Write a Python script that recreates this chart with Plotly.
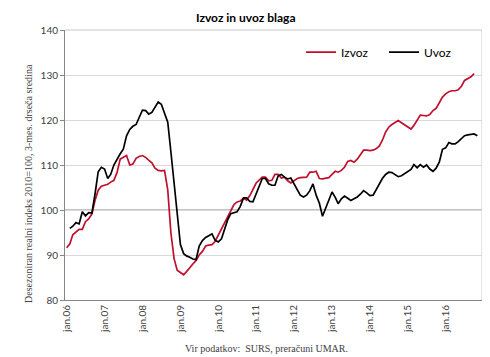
import pandas as pd
import plotly.graph_objects as go

# Monthly categories: jan.2006 .. nov.2016
months = pd.date_range("2006-01-01", periods=131, freq="MS")

izvoz = [
    91.6, 92.5, 94.5, 95.1, 95.7, 95.7, 97.4, 98.0, 99.1, 102.1,
    104.4, 105.3, 105.5, 105.7, 106.2, 106.6, 108.3, 111.3, 111.7, 112.1,
    110.0, 110.2, 111.5, 111.9, 112.1, 111.7, 111.1, 110.5, 109.3, 108.8,
    108.7, 108.8, 104.5, 95.0, 89.2, 86.6, 86.1, 85.6, 86.3, 87.3,
    88.0, 88.8, 90.0, 90.8, 92.0, 92.2, 92.3, 93.0, 94.4, 95.8,
    97.3, 98.6, 99.8, 101.2, 101.8, 102.0, 102.6, 102.2, 103.2, 104.6,
    106.0, 106.7, 107.3, 107.3, 106.5, 106.6, 107.9, 107.9, 107.1, 107.3,
    106.5, 106.0, 106.5, 107.0, 107.2, 107.2, 107.3, 108.4, 108.4, 108.6,
    107.0, 106.9, 107.0, 107.2, 107.9, 108.6, 108.4, 108.8, 109.5, 110.8,
    111.0, 110.6, 111.3, 112.4, 113.3, 113.3, 113.2, 113.3, 113.6, 114.2,
    115.5, 117.3, 118.4, 119.0, 119.4, 119.9, 119.4, 119.0, 118.5, 118.0,
    118.8, 120.0, 121.1, 121.0, 120.9, 121.2, 122.1, 122.6, 124.0, 125.1,
    125.8, 126.3, 126.5, 126.5, 126.7, 127.5, 128.8, 129.2, 129.6, 130.3,
    None,
]

uvoz = [
    None, 95.9, 96.4, 97.2, 96.9, 99.6, 98.7, 99.4, 99.3, 103.5,
    108.5, 109.5, 109.1, 107.0, 107.9, 110.0, 111.3, 112.5, 113.5, 116.5,
    117.9, 118.6, 119.0, 120.5, 122.2, 122.1, 121.3, 121.7, 122.9, 124.0,
    123.5, 121.5, 119.5, 113.0, 106.0, 98.0, 92.3, 90.3, 89.8, 89.5,
    89.1, 89.0, 92.0, 93.2, 93.9, 94.3, 94.7, 93.3, 92.9, 93.6,
    95.8, 97.8, 99.2, 99.4, 99.6, 100.8, 102.7, 102.7, 101.9, 101.8,
    103.5, 105.5, 107.0, 107.0, 105.8, 105.5, 105.5, 107.6, 107.9, 107.3,
    106.9, 107.1, 105.8, 104.5, 103.3, 102.9, 103.3, 104.3, 105.8, 103.3,
    101.5, 98.6, 100.5, 102.4, 104.0, 102.8, 101.4, 102.5, 103.1, 102.6,
    102.1, 102.5, 102.9, 103.5, 104.3, 103.8, 103.2, 103.3, 104.5, 106.0,
    107.0, 107.9, 108.4, 108.3, 107.9, 107.4, 107.6, 108.1, 108.5, 109.0,
    110.1, 109.4, 110.1, 109.5, 110.0, 109.1, 108.6, 109.3, 110.7, 113.5,
    113.8, 115.0, 114.7, 114.7, 115.2, 115.8, 116.5, 116.7, 116.8, 116.9,
    116.5,
]

tick_dates = ["2006-01-01", "2007-01-01", "2008-01-01", "2009-01-01", "2010-01-01",
              "2011-01-01", "2012-01-01", "2013-01-01", "2014-01-01", "2015-01-01",
              "2016-01-01"]
tick_labels = ["jan.06", "jan.07", "jan.08", "jan.09", "jan.10", "jan.11",
               "jan.12", "jan.13", "jan.14", "jan.15", "jan.16"]

RED = "#C0102E"
GRAY_TXT = "#404040"
SANS = "Lato, 'Open Sans', sans-serif"
SERIF = "'Liberation Serif', 'DejaVu Serif', serif"

# The page body adds an 8px margin, so the figure is 8px smaller and shifted.
fig = go.Figure()
fig.add_trace(go.Scatter(x=months, y=izvoz, mode="lines", name="Izvoz",
                         line=dict(color=RED, width=1.7)))
fig.add_trace(go.Scatter(x=months, y=uvoz, mode="lines", name="Uvoz",
                         line=dict(color="#000000", width=1.7)))

fig.update_layout(
    width=482, height=349,
    margin=dict(l=57, r=8, t=22, b=57),
    paper_bgcolor="white", plot_bgcolor="white",
    showlegend=True,
    legend=dict(orientation="h", x=0.566, y=0.918, xanchor="left", yanchor="middle",
                font=dict(family=SANS, size=12, color="#000000"),
                bgcolor="rgba(0,0,0,0)", entrywidth=38, entrywidthmode="pixels",
                itemclick=False),
    xaxis=dict(type="date", range=["2005-12-16", "2016-12-16"],
               tickvals=tick_dates, ticktext=tick_labels, tickangle=-90,
               tickfont=dict(family=SANS, size=10, color=GRAY_TXT),
               showgrid=False, zeroline=False,
               showline=True, linecolor="#868686", linewidth=1,
               ticks="", fixedrange=True),
    yaxis=dict(range=[80, 140], dtick=10, tick0=80,
               tickfont=dict(family=SANS, size=10, color=GRAY_TXT),
               showgrid=True, gridcolor="#d9d9d9", gridwidth=1,
               zeroline=False, showline=True, linecolor="#868686", linewidth=1,
               ticks="outside", ticklen=4, tickcolor="#868686", fixedrange=True),
)

# darker reference line at 100 and light frame on top/right
fig.add_shape(type="line", xref="paper", yref="y", x0=0, x1=1, y0=100, y1=100,
              line=dict(color="#868686", width=1), layer="below")
fig.add_shape(type="line", xref="paper", yref="paper", x0=0, x1=1, y0=1, y1=1,
              line=dict(color="#c8c8c8", width=1))
fig.add_shape(type="line", xref="paper", yref="paper", x0=1, x1=1, y0=0, y1=1,
              line=dict(color="#c8c8c8", width=1))

fig.add_annotation(text="<b>Izvoz in uvoz blaga</b>", xref="paper", yref="paper",
                   x=(245 - 65) / 417, y=(300 - 17) / 270, xanchor="center", yanchor="middle",
                   showarrow=False, font=dict(family=SANS, size=12, color="#000000"))
fig.add_annotation(text="Desezoniran realni indeks 2010=100, 3-mes. drseča sredina",
                   xref="paper", yref="paper", x=(28 - 65) / 417, y=(300 - 184) / 270,
                   xanchor="center", yanchor="middle", textangle=-90, showarrow=False,
                   font=dict(family=SERIF, size=10, color=GRAY_TXT))
fig.add_annotation(text="Vir podatkov:  SURS, preračuni UMAR.",
                   xref="paper", yref="paper", x=(266 - 65) / 417, y=(300 - 348) / 270,
                   xanchor="center", yanchor="middle", showarrow=False,
                   font=dict(family=SERIF, size=10, color=GRAY_TXT))

fig.write_html("out.html")
